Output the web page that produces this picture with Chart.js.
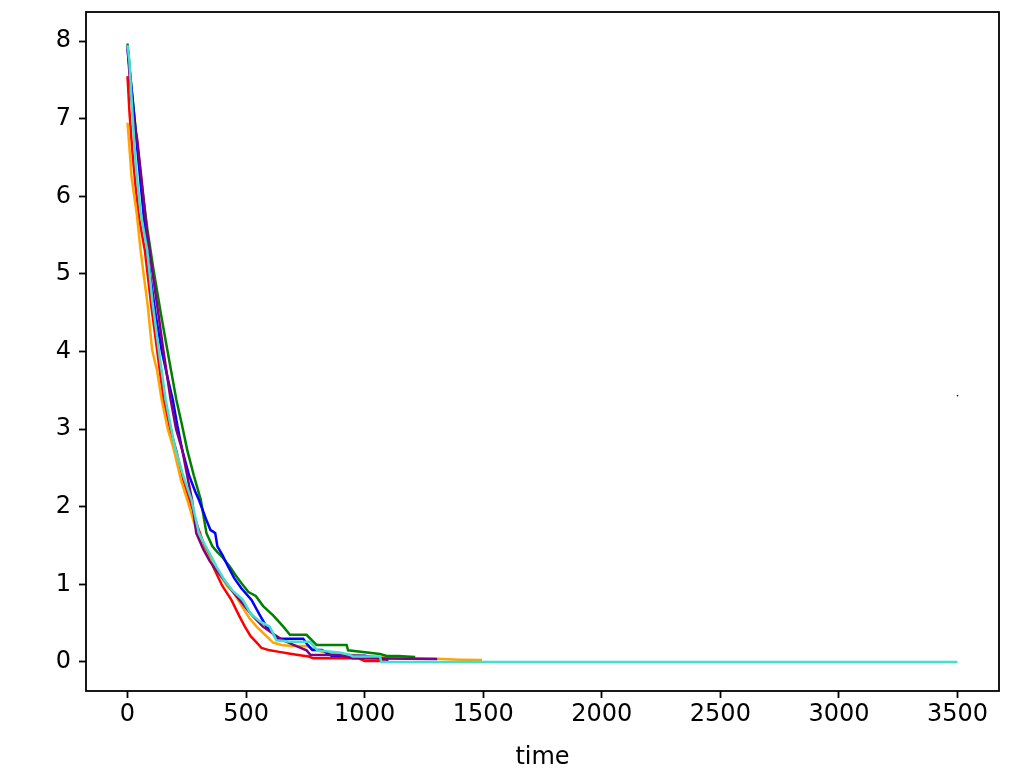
<!DOCTYPE html>
<html><head><meta charset="utf-8">
<script src="https://cdn.jsdelivr.net/npm/chart.js@4.4.0/dist/chart.umd.min.js"></script>
<style>html,body{margin:0;padding:0;background:#fff;}canvas{display:block;}</style>
</head><body>
<canvas id="c" width="1011" height="770"></canvas>
<script>
const xTicks = [0, 500, 1000, 1500, 2000, 2500, 3000, 3500];
const yTicks = [0, 1, 2, 3, 4, 5, 6, 7, 8];
const xTitle = "time";

const cyanX = [0, 8, 20, 35, 55, 83, 105, 132, 161, 185, 203, 235, 270, 301, 330, 350, 375, 410, 440, 486, 520, 560, 600, 615, 628, 685, 769, 800, 900, 938, 950, 1065, 1070, 3500];
const cyanY = [7.95, 7.75, 7.1, 6.4, 5.8, 5.31, 4.65, 4.02, 3.38, 3.0, 2.73, 2.4, 2.09, 1.66, 1.49, 1.38, 1.23, 1.05, 0.93, 0.8, 0.62, 0.52, 0.455, 0.36, 0.28, 0.26, 0.26, 0.15, 0.12, 0.09, 0.07, 0.07, 0.0, 0.0];

const purpleX = [0, 10, 25, 41, 60, 80, 104, 125, 151, 182, 205, 231, 255, 272, 290, 320, 347, 370, 409, 440, 473, 520, 571, 620, 656, 700, 755, 772, 890, 950, 1306];
const purpleY = [7.95, 7.5, 7.0, 6.73, 6.2, 5.6, 5.05, 4.6, 4.02, 3.38, 3.0, 2.73, 2.35, 2.09, 1.66, 1.45, 1.3, 1.2, 1.05, 0.92, 0.8, 0.62, 0.455, 0.35, 0.28, 0.22, 0.15, 0.09, 0.09, 0.047, 0.039];

const blueX = [0, 20, 45, 70, 95, 120, 145, 170, 191, 210, 231, 260, 285, 301, 330, 350, 361, 370, 379, 400, 424, 450, 480, 523, 555, 586, 610, 628, 741, 760, 779, 820, 860, 1000, 1100];
const blueY = [7.9, 7.3, 6.5, 5.7, 5.0, 4.45, 4.0, 3.65, 3.38, 3.05, 2.73, 2.4, 2.2, 2.09, 1.85, 1.7, 1.68, 1.66, 1.49, 1.38, 1.23, 1.08, 0.95, 0.8, 0.62, 0.455, 0.38, 0.3, 0.3, 0.22, 0.155, 0.155, 0.08, 0.08, 0.03];

const greenX = [0, 15, 35, 60, 85, 110, 140, 168, 190, 206, 230, 252, 280, 309, 333, 358, 378, 400, 431, 455, 479, 510, 541, 572, 614, 657, 685, 755, 797, 924, 930, 1065, 1093, 1142, 1213];
const greenY = [7.97, 7.45, 6.85, 6.15, 5.55, 5.05, 4.5, 4.02, 3.65, 3.38, 3.05, 2.73, 2.4, 2.09, 1.66, 1.49, 1.42, 1.35, 1.23, 1.12, 1.02, 0.9, 0.85, 0.72, 0.6, 0.455, 0.35, 0.35, 0.22, 0.22, 0.15, 0.103, 0.077, 0.077, 0.064];

const orangeX = [0, 10, 17, 40, 55, 70, 85, 104, 125, 144, 170, 196, 225, 252, 285, 316, 340, 365, 395, 420, 445, 466, 490, 515, 544, 570, 590, 614, 650, 690, 757, 780, 820, 880, 950, 1020, 1100, 1200, 1305, 1400, 1495];
const orangeY = [6.95, 6.55, 6.25, 5.75, 5.31, 4.95, 4.6, 4.02, 3.75, 3.38, 3.0, 2.73, 2.35, 2.09, 1.75, 1.49, 1.36, 1.23, 1.1, 0.98, 0.9, 0.8, 0.68, 0.56, 0.455, 0.38, 0.32, 0.25, 0.22, 0.206, 0.206, 0.17, 0.13, 0.11, 0.09, 0.07, 0.06, 0.05, 0.04, 0.03, 0.026];

const redX = [0, 8, 20, 35, 50, 73, 100, 125, 152, 180, 205, 235, 262, 295, 325, 361, 400, 438, 470, 495, 520, 545, 565, 600, 640, 680, 720, 764, 783, 880, 975, 1000, 1100];
const redY = [7.55, 7.1, 6.6, 6.1, 5.7, 5.31, 4.6, 4.02, 3.38, 3.0, 2.73, 2.35, 2.09, 1.75, 1.49, 1.23, 0.98, 0.8, 0.6, 0.455, 0.33, 0.25, 0.18, 0.15, 0.13, 0.11, 0.09, 0.07, 0.047, 0.047, 0.047, 0.013, 0.013];

const dotX = [3500];
const dotY = [3.43];

function pts(xs, ys) { return xs.map((x, i) => ({ x: x, y: ys[i] })); }
function line(xs, ys, color) {
  return { data: pts(xs, ys), borderColor: color, backgroundColor: color, borderWidth: 2.5,
           pointRadius: 0, showLine: true, fill: false, tension: 0 };
}

const frame = {
  id: 'frame',
  afterDraw(chart) {
    const a = chart.chartArea, ctx = chart.ctx;
    ctx.save();
    ctx.strokeStyle = '#000';
    ctx.lineWidth = 1.8;
    ctx.strokeRect(a.left, a.top, a.right - a.left, a.bottom - a.top);
    ctx.restore();
  }
};

const font = { family: 'DejaVu Sans', size: 24 };
const titleFont = { family: 'DejaVu Sans', size: 24, lineHeight: 1.05 };

new Chart(document.getElementById('c'), {
  type: 'scatter',
  data: {
    datasets: [
      line(cyanX, cyanY, '#40e0d0'),
      line(purpleX, purpleY, '#800080'),
      line(blueX, blueY, '#0000ff'),
      line(greenX, greenY, '#008000'),
      line(orangeX, orangeY, '#ffa500'),
      line(redX, redY, '#ff0000'),
      { data: pts(dotX, dotY), borderColor: '#000', backgroundColor: '#000', pointRadius: 0.8, borderWidth: 0, showLine: false }
    ]
  },
  options: {
    responsive: false,
    animation: false,
    layout: { padding: { left: 0, top: 12, right: 12, bottom: 0 } },
    plugins: { legend: { display: false }, tooltip: { enabled: false } },
    scales: {
      x: {
        type: 'linear', min: -175, max: 3675,
        afterBuildTicks: s => { s.ticks = xTicks.map(v => ({ value: v })); },
        afterFit: s => { s.height = 79; s.paddingLeft = 0; s.paddingRight = 0; },
        ticks: { color: '#000', font: font, padding: 2, maxRotation: 0, callback: v => String(v) },
        grid: { display: true, drawOnChartArea: false, drawTicks: true, tickLength: 7, tickWidth: 1.8, tickColor: '#000' },
        border: { display: false },
        title: { display: true, text: xTitle, color: '#000', font: titleFont, padding: { top: 0, bottom: 0 } }
      },
      y: {
        type: 'linear', min: -0.374, max: 8.376,
        afterBuildTicks: s => { s.ticks = yTicks.map(v => ({ value: v })); },
        afterFit: s => { s.width = 86; s.paddingTop = 0; s.paddingBottom = 0; },
        ticks: { color: '#000', font: font, padding: 8, callback: v => String(v) },
        grid: { display: true, drawOnChartArea: false, drawTicks: true, tickLength: 7, tickWidth: 1.8, tickColor: '#000' },
        border: { display: false }
      }
    }
  },
  plugins: [frame]
});
</script>
</body></html>
